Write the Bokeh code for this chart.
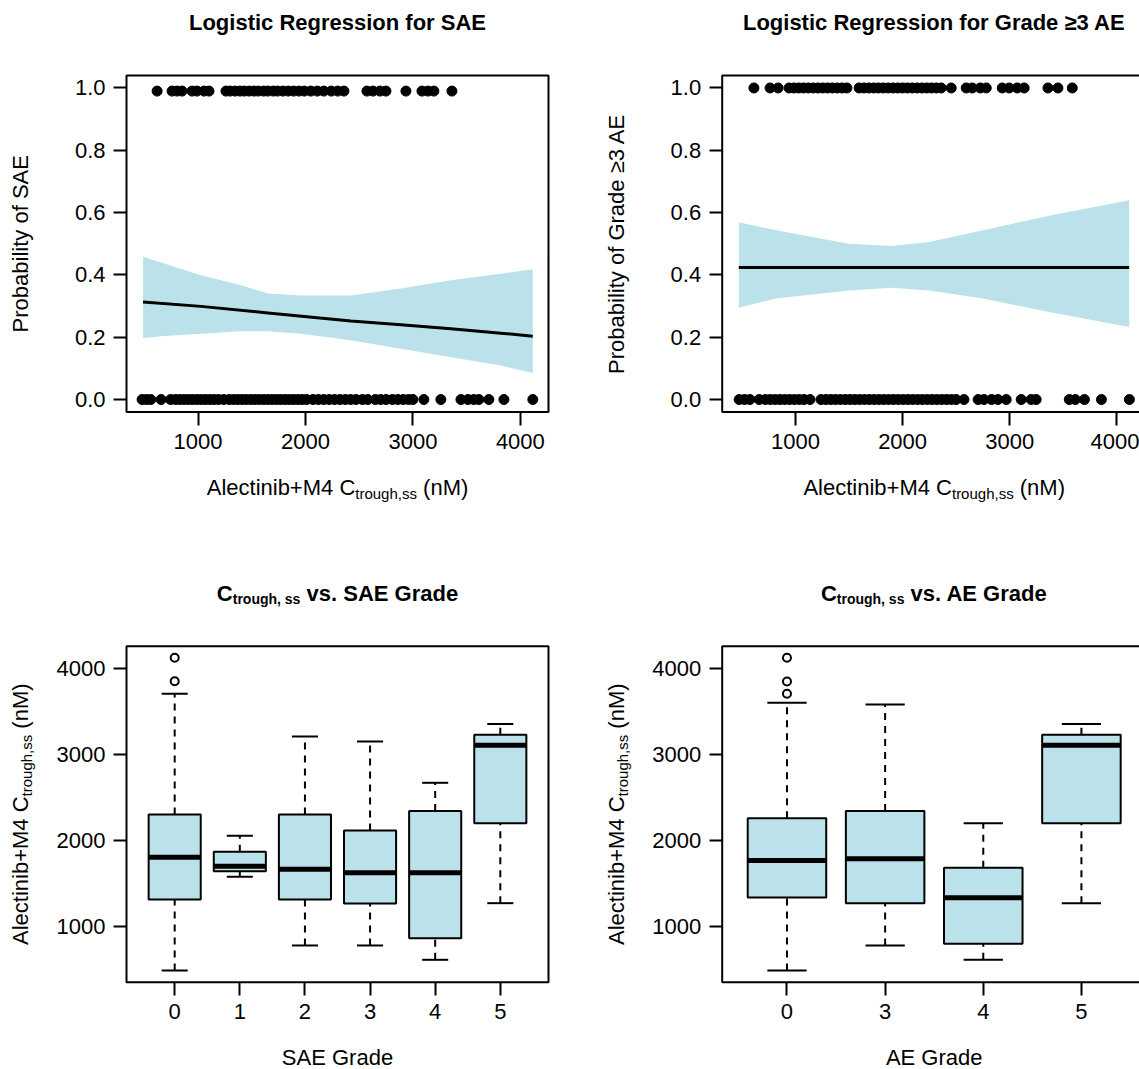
import math
from bokeh.plotting import figure
from bokeh.models import Range1d, FixedTicker, LinearAxis, Label, PrintfTickFormatter, BoxAnnotation
from bokeh.layouts import column, row
from bokeh.embed import file_html
from bokeh.resources import INLINE

FONT = "Liberation Sans"
BLUE = "#BBE2EB"

# ---------------- data ----------------
# Panel 1: logistic regression for SAE
sae_yes_x = [619, 758, 805, 851, 944, 990, 1056, 1102,
             1260, 1300, 1345, 1390, 1430, 1475, 1520, 1560, 1610, 1650, 1700, 1740,
             1790, 1840, 1890, 1940, 1990, 2050, 2110, 2170, 2240, 2300, 2358,
             2572, 2628, 2693, 2749, 2935, 3084, 3140, 3195, 3363]
sae_no_x = [479, 520, 560, 656, 745, 790, 830, 870, 910, 950, 990, 1030, 1070, 1110,
            1150, 1190, 1240, 1290, 1330, 1370, 1410, 1450, 1490, 1530, 1570, 1610,
            1650, 1690, 1730, 1770, 1810, 1850, 1890, 1930, 1970, 2010, 2070, 2120,
            2170, 2220, 2270, 2320, 2370, 2420, 2470, 2530, 2580, 2650, 2700, 2750,
            2810, 2860, 2910, 2960, 3000, 3102, 3260, 3447, 3512, 3567, 3614, 3707,
            3847, 4116]
sae_yes_level = 0.99
sae_no_level = 0.0
sae_curve_x = [488, 1028, 1651, 2423, 2888, 3353, 3819, 4116]
sae_curve_p = [0.313, 0.299, 0.278, 0.252, 0.240, 0.227, 0.213, 0.203]
sae_band_x = [488, 656, 1028, 1400, 1651, 1958, 2423, 2888, 3353, 3819, 4116]
sae_band_hi = [0.458, 0.440, 0.399, 0.367, 0.340, 0.334, 0.334, 0.356, 0.383, 0.404, 0.418]
sae_band_lo = [0.197, 0.203, 0.211, 0.219, 0.219, 0.211, 0.190, 0.163, 0.136, 0.109, 0.085]

# Panel 2: logistic regression for Grade >=3 AE
ge3_yes_x = [612, 763, 838, 940, 985, 1030, 1075, 1120, 1165, 1210, 1255, 1300, 1345,
             1390, 1435, 1480, 1594, 1640, 1685, 1730, 1775, 1820, 1865, 1910, 1955,
             2000, 2045, 2090, 2135, 2180, 2225, 2270, 2315, 2360, 2454, 2594, 2650,
             2725, 2781, 2930, 2995, 3070, 3135, 3357, 3450, 3584]
ge3_no_x = [474, 525, 575, 661, 720, 765, 810, 855, 900, 945, 990, 1035, 1080, 1136,
            1238, 1285, 1330, 1375, 1420, 1465, 1510, 1555, 1600, 1645, 1690, 1735,
            1780, 1825, 1870, 1915, 1960, 2005, 2050, 2095, 2140, 2185, 2230, 2275,
            2320, 2365, 2410, 2455, 2500, 2573, 2705, 2760, 2830, 2890, 2967, 3107,
            3200, 3247, 3556, 3612, 3697, 3856, 4117]
ge3_yes_level = 1.0
ge3_no_level = 0.0
ge3_curve_x = [471, 4115]
ge3_curve_p = [0.424, 0.424]
ge3_band_x = [471, 820, 1500, 1893, 2248, 2752, 3368, 4115]
ge3_band_hi = [0.569, 0.543, 0.500, 0.493, 0.506, 0.543, 0.590, 0.640]
ge3_band_lo = [0.295, 0.324, 0.350, 0.359, 0.350, 0.324, 0.281, 0.233]

prob_ticks = [0.0, 0.2, 0.4, 0.6, 0.8, 1.0]
conc_ticks = [1000, 2000, 3000, 4000]
prob_lim = (-0.04, 1.04)
conc_lim_sae = (334, 4262)
conc_lim_ge3 = (316, 4274)

# Panel 3: Ctrough vs SAE grade (box statistics)
sae_grades = ["0", "1", "2", "3", "4", "5"]
sae_lo = [484, 1576, 775, 775, 608, 1268]
sae_q1 = [1311, 1641, 1311, 1265, 860, 2200]
sae_med = [1804, 1699, 1664, 1622, 1622, 3110]
sae_q3 = [2302, 1867, 2302, 2115, 2341, 3231]
sae_hi = [3709, 2054, 3211, 3153, 2671, 3355]
sae_out_grade = ["0", "0"]
sae_out_val = [4128, 3855]

# Panel 4: Ctrough vs AE grade
ae_grades = ["0", "3", "4", "5"]
ae_lo = [484, 775, 608, 1268]
ae_q1 = [1334, 1268, 795, 2200]
ae_med = [1766, 1785, 1331, 3110]
ae_q3 = [2259, 2341, 1680, 3231]
ae_hi = [3604, 3584, 2200, 3355]
ae_out_grade = ["0", "0", "0"]
ae_out_val = [4128, 3852, 3709]

box_conc_lim = (347, 4263)

# ---------------- text metrics (Arial / Liberation Sans) ----------------
W_REG = {" ": 278, "(": 333, ")": 333, "+": 584, ",": 278, ".": 278, "4": 556,
         "A": 667, "C": 722, "E": 667, "G": 778, "M": 833, "S": 667, "a": 556,
         "b": 556, "c": 500, "d": 556, "e": 556, "g": 556, "h": 556, "i": 222,
         "l": 222, "n": 556, "o": 556, "r": 333, "s": 500, "t": 278, "u": 556, "v": 500}
W_BOLD = {" ": 278, ",": 278, ".": 278, "A": 722, "C": 722, "E": 667, "G": 778,
          "S": 667, "a": 556, "d": 611, "e": 556, "g": 611, "h": 611, "o": 611,
          "r": 389, "s": 556, "t": 333, "u": 611, "v": 556}


def tw(s, size, bold=False):
    t = W_BOLD if bold else W_REG
    return sum(t.get(c, 556) for c in s) * size / 1000.0


class Geo:
    """Maps canvas pixels (from the figure's top-left) to data units."""

    def __init__(self, W, H, bx0, bx1, dx, by0, by1, dy):
        self.sx = (dx[1] - dx[0]) / (bx1 - bx0)
        self.xr = (dx[0] - bx0 * self.sx, dx[0] + (W - bx0) * self.sx)
        self.sy = (dy[1] - dy[0]) / (by1 - by0)
        self.yr = (dy[0] - (H - by1) * self.sy, dy[1] + by0 * self.sy)
        self.box = (dx[0], dx[1], dy[0], dy[1])

    def x(self, px):
        return self.xr[0] + px * self.sx

    def y(self, py):
        return self.yr[1] - py * self.sy


def make_fig(W, H, geo, xticks, yticks):
    p = figure(width=W, height=H, x_range=Range1d(*geo.xr), y_range=Range1d(*geo.yr),
               output_backend="svg", toolbar_location=None, title=None,
               x_axis_location=None, y_axis_location=None, min_border=0)
    p.xgrid.visible = False
    p.ygrid.visible = False
    p.outline_line_color = None
    p.background_fill_color = "white"
    p.border_fill_color = "white"
    xa = LinearAxis(fixed_location=geo.box[2])
    ya = LinearAxis(fixed_location=geo.box[0])
    for ax, ticks in ((xa, xticks), (ya, yticks)):
        ax.ticker = FixedTicker(ticks=ticks)
        ax.major_tick_out = 13
        ax.major_tick_in = 0
        ax.major_tick_line_width = 2
        ax.major_tick_line_color = "black"
        ax.minor_tick_line_color = None
        ax.axis_line_color = None
        ax.major_label_text_font = FONT
        ax.major_label_text_font_size = "22px"
        ax.major_label_text_color = "black"
    xa.major_label_standoff = 9
    ya.major_label_standoff = 8
    p.add_layout(xa, "below")
    p.add_layout(ya, "left")
    p.add_layout(BoxAnnotation(left=geo.box[0], right=geo.box[1], bottom=geo.box[2],
                               top=geo.box[3], fill_color=None, line_color="black",
                               line_alpha=1.0, line_width=2))
    return p, xa, ya


def add_label(p, x, y, text, size=22, bold=False, align="left", angle=0.0):
    p.add_layout(Label(x=x, y=y, text=text, angle=angle, text_font=FONT,
                       text_font_size=f"{size}px",
                       text_font_style="bold" if bold else "normal",
                       text_color="black", text_align=align,
                       text_baseline="alphabetic"))


def composite(p, geo, parts, center, base, vertical=False, bold=False):
    # parts: (text, size, shift_down_px); laid out left-to-right (or bottom-to-top)
    total = sum(tw(t, s, bold) for t, s, d in parts)
    pos = center - total / 2 if not vertical else center + total / 2
    for text, size, down in parts:
        stripped = text.lstrip(" ")
        lead = tw(text[: len(text) - len(stripped)], size, bold)
        w = tw(stripped, size, bold)
        if vertical:
            pos -= lead
            add_label(p, geo.x(base + down), geo.y(pos), stripped, size, bold,
                      angle=math.pi / 2)
            pos -= w
        else:
            pos += lead
            add_label(p, geo.x(pos), geo.y(base + down), stripped, size, bold)
            pos += w


CONC_PARTS = [("Alectinib+M4 C", 22, 0), ("trough,ss", 15, 6), (" (nM)", 22, 0)]

# ---------------- layout (canvas pixels) ----------------
LEFT_W, RIGHT_W = 604, 535
TOP_H, BOT_H = 568, 501
L_BOX = (126, 548)
R_BOX = (117.7, 541.7)
T_BOX = (75, 411.5)
B_BOX = (77.7, 413.7)
TITLE_UP = 53
XLAB_DOWN = 75.5
YLAB_LEFT = 106


def logistic_panel(W, bx, xlim, title, ylabel, yes_x, yes_level, no_x, no_level,
                   bxs, blo, bhi, cx, cp):
    geo = Geo(W, TOP_H, bx[0], bx[1], xlim, T_BOX[0], T_BOX[1], prob_lim)
    p, xa, ya = make_fig(W, TOP_H, geo, conc_ticks, prob_ticks)
    ya.formatter = PrintfTickFormatter(format="%.1f")
    p.varea(x=bxs, y1=blo, y2=bhi, fill_color=BLUE, fill_alpha=1.0)
    p.line(cx, cp, line_color="black", line_width=3)
    p.scatter(yes_x, [yes_level] * len(yes_x), size=10, color="black")
    p.scatter(no_x, [no_level] * len(no_x), size=10, color="black")
    cxp = (bx[0] + bx[1]) / 2
    add_label(p, geo.x(cxp), geo.y(T_BOX[0] - TITLE_UP), title, bold=True, align="center")
    add_label(p, geo.x(bx[0] - YLAB_LEFT), geo.y((T_BOX[0] + T_BOX[1]) / 2), ylabel,
              align="center", angle=math.pi / 2)
    composite(p, geo, CONC_PARTS, cxp, T_BOX[1] + XLAB_DOWN)
    return p


def box_panel(W, bx, xlim, grades, lo, q1, med, q3, hi, out_g, out_v, title_tail, xlabel):
    geo = Geo(W, BOT_H, bx[0], bx[1], xlim, B_BOX[0], B_BOX[1], box_conc_lim)
    pos = [i + 1 for i in range(len(grades))]
    p, xa, ya = make_fig(W, BOT_H, geo, pos, conc_ticks)
    xa.major_label_overrides = {x: g for x, g in zip(pos, grades)}
    half, cap = 0.4, 0.2
    p.segment(x0=pos, y0=q3, x1=pos, y1=hi, line_color="black", line_width=2, line_dash="7 6")
    p.segment(x0=pos, y0=lo, x1=pos, y1=q1, line_color="black", line_width=2, line_dash="7 6")
    p.segment(x0=[x - cap for x in pos], y0=hi, x1=[x + cap for x in pos], y1=hi,
              line_color="black", line_width=2)
    p.segment(x0=[x - cap for x in pos], y0=lo, x1=[x + cap for x in pos], y1=lo,
              line_color="black", line_width=2)
    p.quad(left=[x - half for x in pos], right=[x + half for x in pos], bottom=q1, top=q3,
           fill_color=BLUE, line_color="black", line_width=2)
    p.segment(x0=[x - half for x in pos], y0=med, x1=[x + half for x in pos], y1=med,
              line_color="black", line_width=5)
    p.scatter([grades.index(g) + 1 for g in out_g], out_v, marker="circle", size=8,
              fill_color=None, line_color="black", line_width=2)
    cxp = (bx[0] + bx[1]) / 2
    composite(p, geo, [("C", 22, 0), ("trough, ss", 14, 6), (title_tail, 22, 0)],
              cxp, B_BOX[0] - TITLE_UP, bold=True)
    add_label(p, geo.x(cxp), geo.y(B_BOX[1] + XLAB_DOWN), xlabel, align="center")
    composite(p, geo, CONC_PARTS, (B_BOX[0] + B_BOX[1]) / 2, bx[0] - YLAB_LEFT,
              vertical=True)
    return p


p1 = logistic_panel(LEFT_W, L_BOX, conc_lim_sae, "Logistic Regression for SAE",
                    "Probability of SAE", sae_yes_x, sae_yes_level, sae_no_x, sae_no_level,
                    sae_band_x, sae_band_lo, sae_band_hi, sae_curve_x, sae_curve_p)
p2 = logistic_panel(RIGHT_W, R_BOX, conc_lim_ge3, "Logistic Regression for Grade \u22653 AE",
                    "Probability of Grade \u22653 AE", ge3_yes_x, ge3_yes_level, ge3_no_x,
                    ge3_no_level, ge3_band_x, ge3_band_lo, ge3_band_hi, ge3_curve_x,
                    ge3_curve_p)
p3 = box_panel(LEFT_W, L_BOX, (0.26, 6.74), sae_grades, sae_lo, sae_q1, sae_med, sae_q3,
               sae_hi, sae_out_grade, sae_out_val, " vs. SAE Grade", "SAE Grade")
p4 = box_panel(RIGHT_W, R_BOX, (0.34, 4.66), ae_grades, ae_lo, ae_q1, ae_med, ae_q3,
               ae_hi, ae_out_grade, ae_out_val, " vs. AE Grade", "AE Grade")

layout = column(row(p1, p2), row(p3, p4))
open("out.html", "w").write(file_html(layout, INLINE))
